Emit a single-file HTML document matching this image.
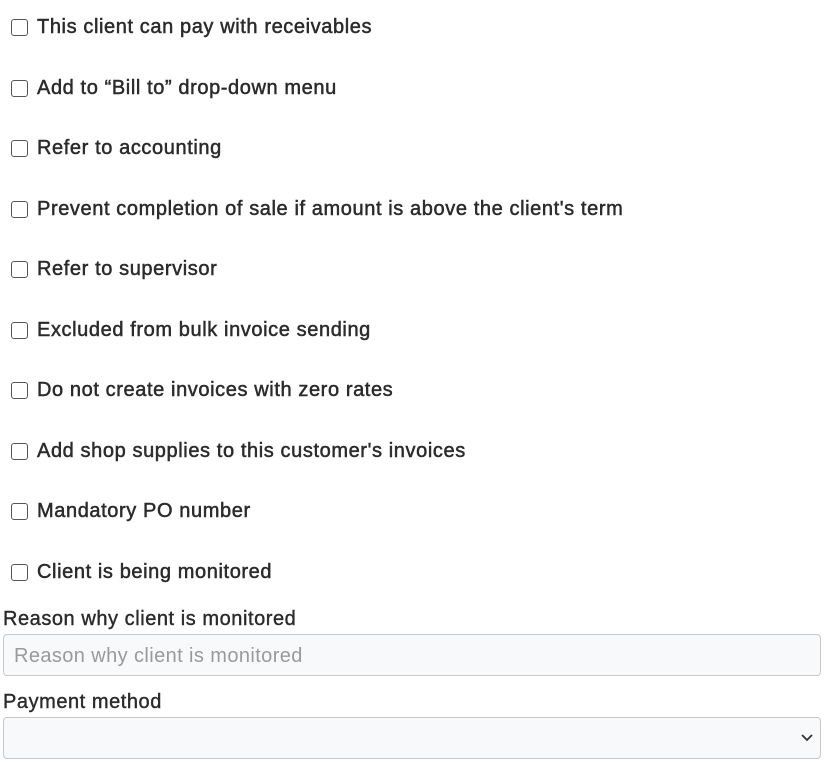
<!DOCTYPE html>
<html><head><meta charset="utf-8"><style>
body{margin:0;width:833px;height:770px;background:#fff;font-family:"Liberation Sans",sans-serif;color:#2b2b2b;position:relative;overflow:hidden}
.r{position:absolute;left:0;height:30px;width:833px}
.cb{position:absolute;left:11px;top:6px;width:15px;height:15px;border:1.6px solid #555;border-radius:3px;background:#fff}
.t{position:absolute;left:37px;top:2px;font-size:20px;line-height:24px;letter-spacing:0.6px;-webkit-text-stroke:0.5px #2b2b2b;white-space:nowrap}
.lb{position:absolute;left:3px;font-size:20px;line-height:24px;letter-spacing:0.55px;-webkit-text-stroke:0.4px #2b2b2b;white-space:nowrap}
.in{position:absolute;left:3px;width:816px;height:40px;border:1px solid #c8c8c8;border-radius:4px;background:#f8f9fa}
.ph{position:absolute;left:10px;top:9px;font-size:20px;line-height:24px;letter-spacing:0.4px;color:#9a9a9a}
</style></head><body>
<div class="r" style="top:13px"><div class="cb"></div><div class="t">This client can pay with receivables</div></div>
<div class="r" style="top:74px"><div class="cb"></div><div class="t">Add to “Bill to” drop-down menu</div></div>
<div class="r" style="top:134px"><div class="cb"></div><div class="t">Refer to accounting</div></div>
<div class="r" style="top:195px"><div class="cb"></div><div class="t">Prevent completion of sale if amount is above the client's term</div></div>
<div class="r" style="top:255px"><div class="cb"></div><div class="t">Refer to supervisor</div></div>
<div class="r" style="top:316px"><div class="cb"></div><div class="t">Excluded from bulk invoice sending</div></div>
<div class="r" style="top:376px"><div class="cb"></div><div class="t">Do not create invoices with zero rates</div></div>
<div class="r" style="top:437px"><div class="cb"></div><div class="t">Add shop supplies to this customer's invoices</div></div>
<div class="r" style="top:497px"><div class="cb"></div><div class="t">Mandatory PO number</div></div>
<div class="r" style="top:558px"><div class="cb"></div><div class="t">Client is being monitored</div></div>
<div class="lb" style="top:607px">Reason why client is monitored</div>
<div class="in" style="top:634px"><div class="ph">Reason why client is monitored</div></div>
<div class="lb" style="top:690px">Payment method</div>
<div class="in" style="top:717px"><svg style="position:absolute;right:6px;top:14px" width="14" height="12" viewBox="0 0 14 12"><path d="M2 3 L7 8 L12 3" fill="none" stroke="#333" stroke-width="1.8"/></svg></div>
</body></html>
